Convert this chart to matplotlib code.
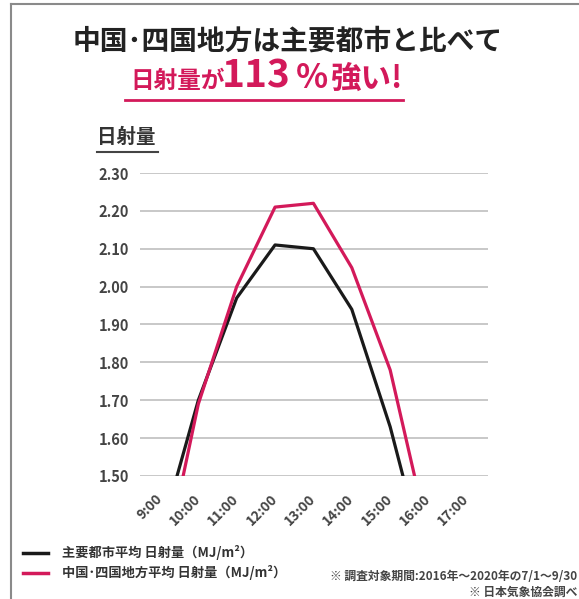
import numpy as np
import matplotlib
matplotlib.use("Agg")
import matplotlib.pyplot as plt
from matplotlib.lines import Line2D

plt.rcParams['font.family'] = ['Noto Sans CJK JP', 'DejaVu Sans']

W, H = 579, 599
RED = '#d3195a'
BLACK = '#1a1a1a'

# data
times = ['9:00', '10:00', '11:00', '12:00', '13:00', '14:00', '15:00', '16:00', '17:00']
major_cities = [1.34, 1.70, 1.97, 2.11, 2.10, 1.94, 1.63, 1.24, np.nan]
chugoku_shikoku = [1.21, 1.69, 2.00, 2.21, 2.22, 2.05, 1.78, 1.34, np.nan]
yticks = [1.50, 1.60, 1.70, 1.80, 1.90, 2.00, 2.10, 2.20, 2.30]
label_major = '主要都市平均 日射量（MJ/m²）'
label_cs = '中国･四国地方平均 日射量（MJ/m²）'


def fx(x):
    return x / W


def fy(y):
    return 1 - y / H


fig = plt.figure(figsize=(W / 100, H / 100), dpi=100)
ax = fig.add_axes([fx(140), fy(476), fx(488) - fx(140), fy(173) - fy(476)])

x = np.arange(len(times))
ax.plot(x, major_cities, color=BLACK, lw=2.3, zorder=3)
ax.plot(x, chugoku_shikoku, color=RED, lw=2.3, zorder=4)

ax.set_xlim(-0.52, len(times) - 1 + 0.55)
ax.set_ylim(1.5, 2.3)
ax.set_yticks(yticks)
ax.set_yticklabels([f'{v:.2f}' for v in yticks], fontsize=10.5, fontweight='bold', color='#444444')
ax.set_xticks(x)
ax.set_xticklabels(times, fontsize=10, fontweight='bold', color='#444444')
plt.setp(ax.get_xticklabels(), rotation=45, ha='right', va='center', rotation_mode='anchor')
ax.tick_params(axis='both', length=0)
ax.tick_params(axis='y', pad=8)
ax.tick_params(axis='x', pad=15)
ax.grid(axis='y', color='#c4c4c4', lw=1.3)
ax.set_axisbelow(True)
for s in ax.spines.values():
    s.set_visible(False)

# frame
fig.add_artist(Line2D([fx(11), fx(11)], [fy(4), 0], color='#8a8a8a', lw=1.5))
fig.add_artist(Line2D([fx(11), 1], [fy(4), fy(4)], color='#8a8a8a', lw=1.5))

# title
fig.text(fx(288), fy(42), '中国･四国地方は主要都市と比べて', ha='center', va='center',
         fontsize=20, fontweight='bold', color='#222222')
base = fy(88)
fig.text(fx(130), base, '日射量が', ha='left', va='baseline', fontsize=17, fontweight='bold', color=RED)
fig.text(fx(222), base, '113', ha='left', va='baseline', fontsize=28, fontweight='bold', color=RED)
fig.text(fx(296), base, '%', ha='left', va='baseline', fontsize=24, fontweight='bold', color=RED)
fig.text(fx(331), base, '強い!', ha='left', va='baseline', fontsize=22, fontweight='bold', color=RED)
fig.add_artist(Line2D([fx(125), fx(403)], [fy(100), fy(100)], color=RED, lw=2))

# y label
fig.text(fx(97), fy(137), '日射量', ha='left', va='center', fontsize=14, fontweight='bold', color='#333333')
fig.add_artist(Line2D([fx(97), fx(158)], [fy(152), fy(152)], color='#444444', lw=1.5))

# legend
for yy, c, lab in [(553, BLACK, label_major), (573, RED, label_cs)]:
    fig.add_artist(Line2D([fx(23), fx(48)], [fy(yy), fy(yy)], color=c, lw=2.5))
    fig.text(fx(62), fy(yy), lab, ha='left', va='center', fontsize=9.5, fontweight='bold', color='#333333')

# notes
fig.text(fx(577), fy(577), '※ 調査対象期間:2016年～2020年の7/1～9/30', ha='right', va='center',
         fontsize=8.5, fontweight='bold', color='#444444')
fig.text(fx(577), fy(592), '※ 日本気象協会調べ', ha='right', va='center',
         fontsize=8.5, fontweight='bold', color='#444444')

fig.savefig('out.png', dpi=100)
